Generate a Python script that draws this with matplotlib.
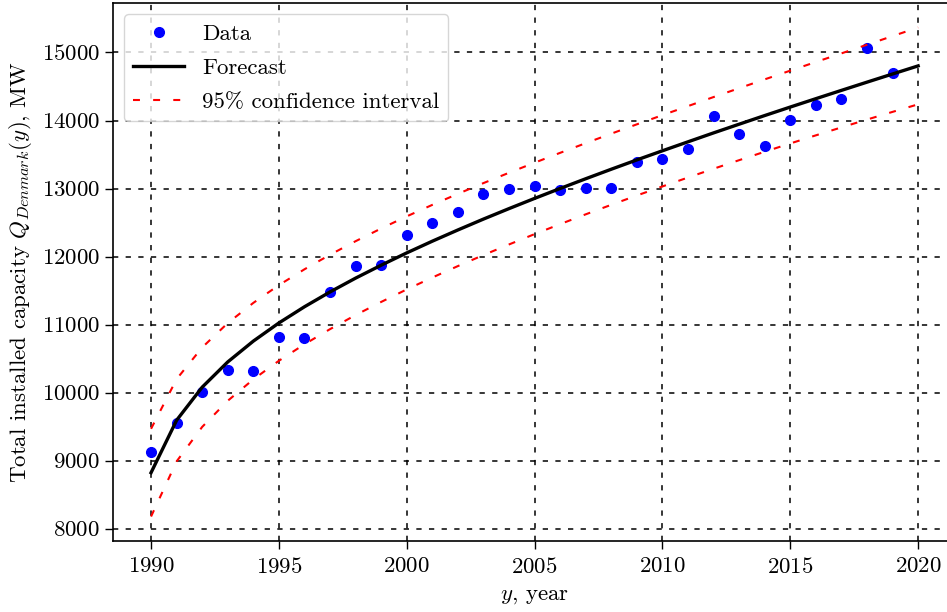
import matplotlib
matplotlib.use("Agg")
import matplotlib.pyplot as plt

plt.rcParams["font.family"] = "serif"
plt.rcParams["font.serif"] = ["cmr10", "DejaVu Serif"]
plt.rcParams["mathtext.fontset"] = "cm"
plt.rcParams["axes.formatter.use_mathtext"] = True
plt.rcParams["axes.unicode_minus"] = False
plt.rcParams["lines.scale_dashes"] = False

# Observed installed capacity, MW
data_years = list(range(1990, 2020))
data_mw = [9124, 9560, 10007, 10331, 10321, 10822, 10803, 11485, 11857, 11872,
           12314, 12486, 12648, 12918, 12987, 13035, 12976, 13006, 13006, 13389,
           13439, 13586, 14072, 13807, 13624, 14003, 14224, 14318, 15068, 14700]

# Fitted forecast and 95% interval bounds, MW
fc_years = list(range(1990, 2021))
forecast = [8823, 9594, 10080, 10451, 10757, 11024, 11262, 11480, 11683, 11873,
            12054, 12226, 12391, 12551, 12705, 12855, 13001, 13144, 13284, 13421,
            13555, 13687, 13818, 13946, 14073, 14198, 14321, 14443, 14564, 14684,
            14803]
ci_upper = [9468, 10199, 10664, 11022, 11319, 11580, 11813, 12027, 12226, 12413,
            12591, 12760, 12922, 13080, 13232, 13380, 13525, 13667, 13807, 13944,
            14079, 14212, 14345, 14475, 14605, 14733, 14860, 14987, 15114, 15241,
            15368]
ci_lower = [8178, 8989, 9496, 9880, 10195, 10468, 10711, 10933, 11140, 11333,
            11517, 11692, 11860, 12022, 12178, 12330, 12477, 12621, 12761, 12898,
            13031, 13162, 13291, 13417, 13541, 13663, 13782, 13899, 14014, 14127,
            14238]

FS = 16.5

fig = plt.figure(figsize=(9.47, 6.12), dpi=100)
ax = fig.add_axes([112.7 / 947, 71 / 612, 843.8 / 947, 538 / 612])

ax.plot(data_years, data_mw, "o", color="blue", markersize=7.0, label="Data")
ax.plot(fc_years, forecast, "-", color="black", linewidth=2.4, label="Forecast")
ax.plot(fc_years, ci_upper, color="red", linewidth=1.5,
        linestyle=(0, (5, 9.5)), label="95% confidence interval")
ax.plot(fc_years, ci_lower, color="red", linewidth=1.5,
        linestyle=(0, (5, 9.5)))

ax.set_xticks([1990, 1995, 2000, 2005, 2010, 2015, 2020])
ax.set_yticks(range(8000, 15001, 1000))
ax.grid(True, color="black", linewidth=1.1, linestyle=(0, (3.8, 5.3)))

ax.set_xlabel(r"$y$, year", fontsize=FS, labelpad=7)
ax.set_ylabel(r"Total installed capacity $Q_{Denmark}(y)$, MW", fontsize=FS,
              labelpad=6)
ax.tick_params(labelsize=FS, length=5.5, width=1.0)
ax.tick_params(axis="x", pad=6)
for sp in ax.spines.values():
    sp.set_linewidth(1.2)

ax.legend(loc="upper left", fontsize=FS, handlelength=2.2, labelspacing=0.62)

fig.savefig("out.png", dpi=100)
